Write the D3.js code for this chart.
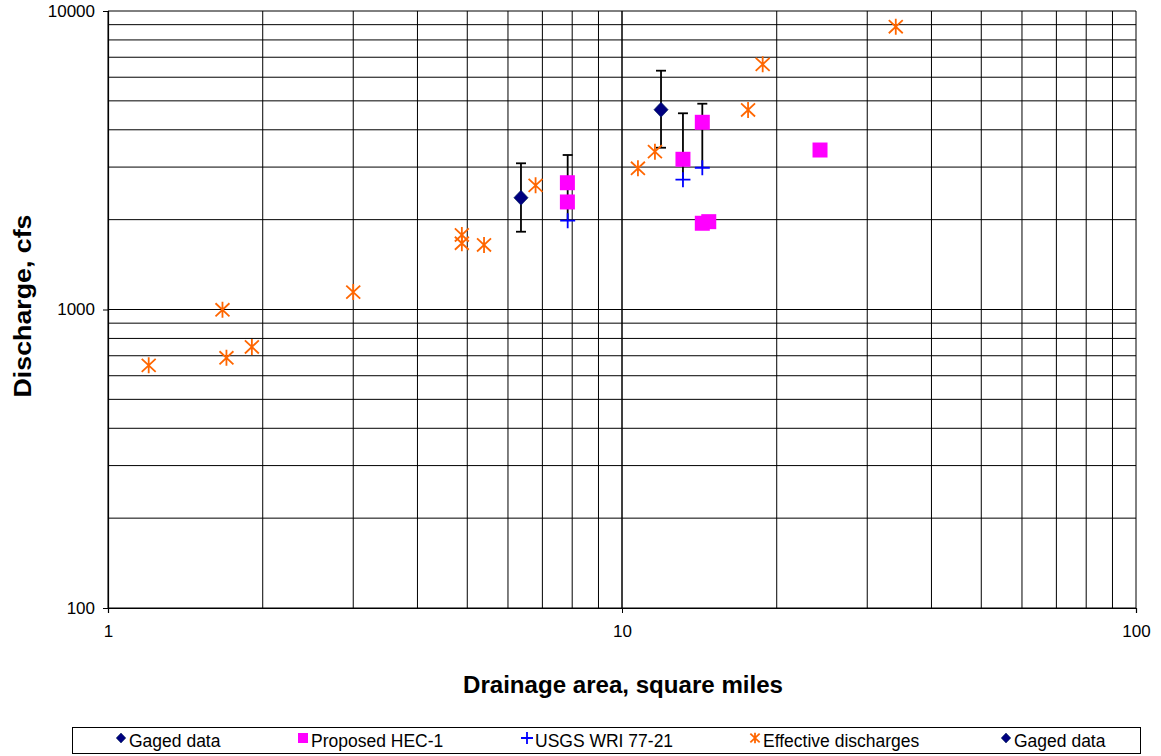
<!DOCTYPE html>
<html>
<head>
<meta charset="utf-8">
<script src="https://cdn.jsdelivr.net/npm/d3@7"></script>
<style>
  body { margin: 0; background: #fff; }
  svg text { font-family: "Liberation Sans", Arial, sans-serif; fill: #000; }
</style>
</head>
<body>
<svg id="chart" width="1161" height="756"></svg>
<script>
// data (drainage area in sq mi, discharge in cfs)
let gagedArea = [6.36, 11.91];
let gagedQ = [2368, 4670];
let gagedLow = [1822, 3483];
let gagedHigh = [3089, 6310];

let hecArea = [7.83, 7.83, 13.14, 14.33, 14.33, 14.75, 24.28];
let hecQ = [2659, 2292, 3186, 4238, 1945, 1969, 3422];

let usgsArea = [7.84, 13.14, 14.33];
let usgsQ = [1984, 2722, 2985];
let usgsHigh = [3293, 4543, 4891];

let effArea = [1.20, 1.67, 1.70, 1.905, 3.00, 4.88, 4.88, 5.39, 6.79, 10.74, 11.59, 17.59, 18.78, 34.09];
let effQ = [650, 998, 689, 749, 1144, 1777, 1667, 1645, 2606, 2972, 3379, 4660, 6627, 8859];

let xTicks = [1, 10, 100];
let yTicks = [100, 1000, 10000];
let legendNames = ["Gaged data", "Proposed HEC-1", "USGS WRI 77-21", "Effective discharges", "Gaged data"];
let legendKinds = ["diamond", "square", "plus", "star", "diamond"];

let svg = d3.select("#chart");
let margin = { left: 108, top: 11 };
let width = 1028;
let height = 597;

let x = d3.scaleLog().domain([1, 100]).range([0, width]);
let y = d3.scaleLog().domain([100, 10000]).range([height, 0]);

let g = svg.append("g").
attr("transform", `translate(${margin.left},${margin.top})`);

// gridlines at every 1..9 multiple
let xGrid = [];
let yGrid = [];
[1, 10].forEach(d => { for (let k = 1; k <= 10; k++) xGrid.push(d * k); });
[100, 1000].forEach(d => { for (let k = 1; k <= 10; k++) yGrid.push(d * k); });

g.selectAll(".xgrid").
data(xGrid).
enter().
append("line").
attr("x1", d => x(d)).
attr("x2", d => x(d)).
attr("y1", 0).
attr("y2", height).
attr("stroke", "#000").
attr("stroke-width", 1);

g.selectAll(".ygrid").
data(yGrid).
enter().
append("line").
attr("x1", 0).
attr("x2", width).
attr("y1", d => y(d)).
attr("y2", d => y(d)).
attr("stroke", "#000").
attr("stroke-width", 1);

// axes
let xAxis = d3.axisBottom(x).tickValues(xTicks).tickFormat(d3.format("d")).tickSize(5).tickPadding(12);
let yAxis = d3.axisLeft(y).tickValues(yTicks).tickFormat(d3.format("d")).tickSize(5).tickPadding(8);

let gx = g.append("g").attr("transform", `translate(0,${height})`).call(xAxis);
let gy = g.append("g").call(yAxis);
[gx, gy].forEach(a => {
  a.select(".domain").attr("stroke", "#000").attr("stroke-width", 1.2);
  a.selectAll(".tick line").attr("stroke", "#000");
  a.selectAll("text").style("font-size", "17px").attr("fill", "#000");
});

// axis titles
svg.append("text").
attr("x", margin.left + width / 2 + 1).
attr("y", 693).
attr("text-anchor", "middle").
attr("textLength", 320).
attr("lengthAdjust", "spacingAndGlyphs").
style("font-size", "23.5px").
style("font-weight", "bold").
text("Drainage area, square miles");

svg.append("text").
attr("transform", "translate(31,306) rotate(-90)").
attr("text-anchor", "middle").
attr("textLength", 183).
attr("lengthAdjust", "spacingAndGlyphs").
style("font-size", "24px").
style("font-weight", "bold").
text("Discharge, cfs");

// marker shapes
function markerPath(kind, s) {
  if (kind === "diamond") return `M0,${-s}L${s * 0.95},0L0,${s}L${-s * 0.95},0Z`;
  if (kind === "square") return `M${-s},${-s}H${s}V${s}H${-s}Z`;
  if (kind === "plus") return `M${-s},0H${s}M0,${-s}V${s}`;
  return `M0,${-s * 1.07}V${s * 1.07}M${-s * 0.93},${-s * 0.87}L${s * 0.93},${s * 0.87}M${-s * 0.93},${s * 0.87}L${s * 0.93},${-s * 0.87}`;
}

function markerStyle(sel, kind) {
  if (kind === "diamond") sel.attr("fill", "#000080").attr("stroke", "#0a2a5a").attr("stroke-width", 0.6);
  else if (kind === "square") sel.attr("fill", "#ff00ff").attr("stroke", "none");
  else if (kind === "plus") sel.attr("fill", "none").attr("stroke", "#0000ff").attr("stroke-width", 1.8);
  else sel.attr("fill", "none").attr("stroke", "#ff6600").attr("stroke-width", 1.8);
}

// error bars
let gagedData = gagedArea.map((a, i) => ({ a: a, q: gagedQ[i], lo: gagedLow[i], hi: gagedHigh[i] }));
let usgsData = usgsArea.map((a, i) => ({ a: a, q: usgsQ[i], lo: usgsQ[i], hi: usgsHigh[i] }));
let bars = gagedData.concat(usgsData);
let capW = 5;

let eb = g.selectAll(".ebar").
data(bars).
enter().
append("g").
attr("transform", d => `translate(${x(d.a)},0)`);

eb.append("line").
attr("y1", d => y(d.hi)).
attr("y2", d => y(d.lo)).
attr("stroke", "#000").
attr("stroke-width", 1.8);

eb.append("line").
attr("x1", -capW).
attr("x2", capW).
attr("y1", d => y(d.hi)).
attr("y2", d => y(d.hi)).
attr("stroke", "#000").
attr("stroke-width", 1.8);

eb.filter(d => d.lo !== d.q).
append("line").
attr("x1", -capW).
attr("x2", capW).
attr("y1", d => y(d.lo)).
attr("y2", d => y(d.lo)).
attr("stroke", "#000").
attr("stroke-width", 1.8);

// series
let series = [
  { kind: "diamond", size: 7.5, a: gagedArea, q: gagedQ },
  { kind: "square", size: 7.5, a: hecArea, q: hecQ },
  { kind: "plus", size: 7.5, a: usgsArea, q: usgsQ },
  { kind: "star", size: 7.5, a: effArea, q: effQ }
];

series.forEach(s => {
  let pts = g.selectAll(".pt-" + s.kind).
  data(s.a.map((a, i) => [a, s.q[i]])).
  enter().
  append("path").
  attr("class", "pt-" + s.kind).
  attr("transform", d => `translate(${x(d[0])},${y(d[1])})`).
  attr("d", markerPath(s.kind, s.size));
  markerStyle(pts, s.kind);
});

// legend
let legendX = [121, 303, 527, 755, 1006];
svg.append("rect").
attr("x", 72.5).
attr("y", 727.5).
attr("width", 1068).
attr("height", 26).
attr("fill", "#fff").
attr("stroke", "#000").
attr("stroke-width", 1);

let item = svg.selectAll(".legend-item").
data(legendNames).
enter().
append("g").
attr("transform", (d, i) => `translate(${legendX[i]},738)`);

item.append("path").
attr("d", (d, i) => markerPath(legendKinds[i], legendKinds[i] === "plus" ? 6 : 5)).
each(function (d, i) { markerStyle(d3.select(this), legendKinds[i]); });

item.append("text").
attr("x", 8).
attr("y", 9).
style("font-size", "17.5px").
text(d => d);
</script>
</body>
</html>
